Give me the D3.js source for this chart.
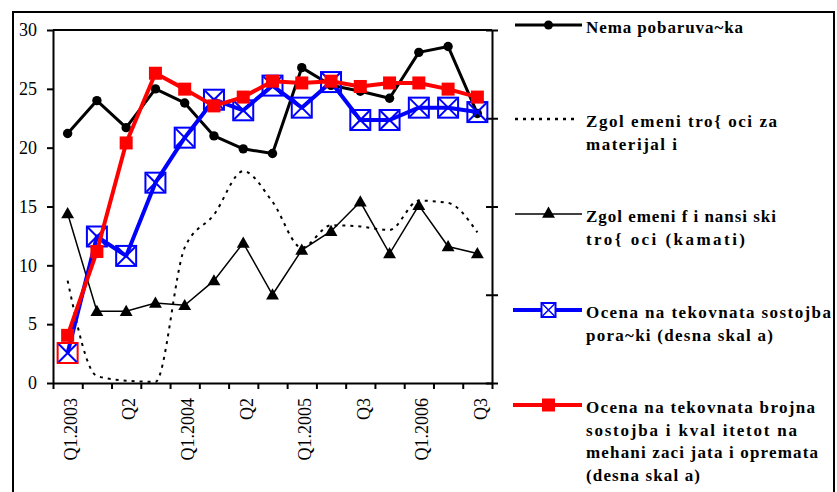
<!DOCTYPE html>
<html><head><meta charset="utf-8">
<script src="https://cdn.jsdelivr.net/npm/d3@7"></script>
<style>html,body{margin:0;padding:0;background:#fff;} svg{display:block;}
svg text{font-family:"Liberation Serif","Times New Roman","DejaVu Serif",serif;}</style>
</head><body>
<svg id="chart" width="837" height="492"></svg>
<script>
// ---- data ----
const categories = ["Q1.2003","Q2.2003","Q3.2003","Q4.2003","Q1.2004","Q2.2004","Q3.2004","Q4.2004","Q1.2005","Q2.2005","Q3.2005","Q4.2005","Q1.2006","Q2.2006","Q3.2006"];
const tickLabels = ["Q1.2003","","Q2","","Q1.2004","","Q2","","Q1.2005","","Q3","","Q1.2006","","Q3"];
const leftTicks = [0,5,10,15,20,25,30];
const rightTicks = [0,10,20,30,40];
const nemaPobaruvacka = [21.2,24.0,21.7,25.0,23.8,21.0,19.9,19.5,26.8,25.3,24.8,24.2,28.1,28.6,22.9];
const materijali = [8.7,0.6,0.2,0.1,11.5,14.3,18.0,15.4,11.5,13.4,13.3,13.0,15.5,15.3,12.8];
const kamati = [14.4,6.1,6.1,6.8,6.6,8.7,11.9,7.5,11.3,12.9,15.4,11.0,15.1,11.6,11.0];
const porackiDesna = [3.4,16.6,14.4,22.7,27.8,32.1,30.9,33.7,31.2,34.1,29.8,29.8,31.2,31.2,30.7];
const mehanizacijaDesna = [5.4,14.9,27.2,35.1,33.3,31.4,32.4,34.2,34.0,34.2,33.6,34.0,34.0,33.3,32.4];
const legendLabels = [
  ["Nema pobaruva~ka"],
  ["Zgol emeni tro{ oci za","materijal i"],
  ["Zgol emeni f i nansi ski","tro{ oci (kamati)"],
  ["Ocena na tekovnata sostojba","pora~ki (desna skal a)"],
  ["Ocena na tekovnata brojna","sostojba i kval itetot na","mehani zaci jata i opremata","(desna skal a)"]
];

// ---- layout ----
const svg = d3.select("#chart");
const L = 53, R = 492, T = 30, B = 383;
const n = categories.length;
const xBand = d3.scaleBand().domain(d3.range(n)).range([L, R]).padding(0);
const xEdge = d3.scaleLinear().domain([0, n]).range([L, R]);
const cx = i => xBand(i) + xBand.bandwidth() / 2;
const yL = d3.scaleLinear().domain([0, 30]).range([B, T]);
const yR = d3.scaleLinear().domain([0, 40]).range([B, T]);
const serif = '"Liberation Serif","Times New Roman","DejaVu Serif",serif';

// outer frame
svg.append("rect").attr("x", 13).attr("y", 12).attr("width", 821).attr("height", 500)
  .attr("fill", "none").attr("stroke", "#000").attr("stroke-width", 2);

// top border of plot
svg.append("line").attr("x1", L).attr("x2", R).attr("y1", T).attr("y2", T)
  .attr("stroke", "#000").attr("stroke-width", 2);

// left axis
const gl = svg.append("g").attr("transform", `translate(${L},0)`)
  .call(d3.axisLeft(yL).tickValues(leftTicks).tickSize(6).tickSizeOuter(0).tickPadding(10));
gl.attr("font-family", null);
gl.select(".domain").attr("stroke-width", 2);
gl.selectAll(".tick line").attr("stroke-width", 2);
gl.selectAll("text").style("font-family", serif).style("font-size", "18px").attr("fill", "#000");

// right axis (no labels)
const gr = svg.append("g").attr("transform", `translate(${R},0)`)
  .call(d3.axisRight(yR).tickValues(rightTicks).tickSize(6).tickSizeOuter(0).tickFormat(""));
gr.select(".domain").attr("stroke-width", 2);
gr.selectAll(".tick line").attr("x1", -6).attr("x2", 6).attr("stroke-width", 2);

// bottom axis ticks at band edges
const gb = svg.append("g").attr("transform", `translate(0,${B})`)
  .call(d3.axisBottom(xEdge).tickValues(d3.range(n + 1)).tickSize(6).tickSizeOuter(0).tickFormat(""));
gb.select(".domain").attr("stroke-width", 2);
gb.selectAll(".tick line").attr("stroke-width", 2);

// bottom labels
const gbl = svg.append("g").attr("transform", `translate(0,${B})`)
  .call(d3.axisBottom(xBand).tickSize(0).tickFormat(i => tickLabels[i]));
gbl.attr("font-family", null);
gbl.select(".domain").remove();
gbl.selectAll("text").style("font-family", serif).style("font-size", "18px").attr("fill", "#000")
  .attr("transform", "rotate(-90)").attr("text-anchor", "end")
  .attr("x", -15).attr("y", 3).attr("dy", "0.35em");

// ---- series ----
const lineL = d3.line().x((d, i) => cx(i)).y(d => yL(d));
const lineR = d3.line().x((d, i) => cx(i)).y(d => yR(d));
const smoothL = d3.line().x((d, i) => cx(i)).y(d => yL(d)).curve(d3.curveMonotoneX);

// black: Nema pobaruvacka
svg.append("path").attr("d", lineL(nemaPobaruvacka)).attr("fill", "none")
  .attr("stroke", "#000").attr("stroke-width", 3).attr("stroke-linejoin", "round");
svg.append("g").selectAll("circle").data(nemaPobaruvacka).join("circle")
  .attr("cx", (d, i) => cx(i)).attr("cy", d => yL(d)).attr("r", 4.7).attr("fill", "#000");

// dotted: materijali
svg.append("path").attr("d", smoothL(materijali)).attr("fill", "none")
  .attr("stroke", "#000").attr("stroke-width", 2).attr("stroke-dasharray", "3,5");

// triangles: kamati
svg.append("path").attr("d", lineL(kamati)).attr("fill", "none")
  .attr("stroke", "#000").attr("stroke-width", 1.5);
const tri = d3.symbol().type(d3.symbolTriangle).size(72);
svg.append("g").selectAll("path").data(kamati).join("path")
  .attr("d", tri).attr("transform", (d, i) => `translate(${cx(i)},${yL(d) + 1})`).attr("fill", "#000");

// blue: poracki (right scale)
svg.append("path").attr("d", lineR(porackiDesna)).attr("fill", "none")
  .attr("stroke", "#0000ff").attr("stroke-width", 4).attr("stroke-linejoin", "round");
const bm = svg.append("g").selectAll("g").data(porackiDesna).join("g")
  .attr("transform", (d, i) => `translate(${cx(i)},${yR(d)})`);
bm.append("rect").attr("x", -10).attr("y", -10).attr("width", 20).attr("height", 20)
  .attr("fill", "none").attr("stroke", (d, i) => i === 0 ? "#ff0000" : "#0000ff").attr("stroke-width", 2);
bm.append("path").attr("d", "M-9,-9L9,9M9,-9L-9,9").attr("stroke", "#0000ff").attr("stroke-width", 2);

// red: mehanizacija (right scale)
svg.append("path").attr("d", lineR(mehanizacijaDesna)).attr("fill", "none")
  .attr("stroke", "#ff0000").attr("stroke-width", 4).attr("stroke-linejoin", "round");
svg.append("g").selectAll("rect").data(mehanizacijaDesna).join("rect")
  .attr("x", (d, i) => cx(i) - 6.5).attr("y", d => yR(d) - 6.5)
  .attr("width", 13).attr("height", 13).attr("fill", "#ff0000");

// ---- legend ----
const legY = [25, 119, 214, 310, 405];
const lx1 = 515, lx2 = 582, lmx = 548.5, tx = 586;
const legendWidths = [[157],[191,91],[190,159],[245,187],[229,211,232,114]];
const lg = svg.append("g");
lg.append("line").attr("x1", lx1).attr("x2", lx2).attr("y1", legY[0]).attr("y2", legY[0]).attr("stroke", "#000").attr("stroke-width", 3);
lg.append("circle").attr("cx", lmx).attr("cy", legY[0]).attr("r", 4.5).attr("fill", "#000");
lg.append("line").attr("x1", lx1).attr("x2", lx2 - 4).attr("y1", legY[1]).attr("y2", legY[1]).attr("stroke", "#000").attr("stroke-width", 2.5).attr("stroke-dasharray", "3,5");
lg.append("line").attr("x1", lx1).attr("x2", lx2).attr("y1", legY[2]).attr("y2", legY[2]).attr("stroke", "#000").attr("stroke-width", 1.5);
lg.append("path").attr("d", tri).attr("transform", `translate(${lmx},${legY[2]})`).attr("fill", "#000");
lg.append("line").attr("x1", lx1 - 2).attr("x2", lx2).attr("y1", legY[3]).attr("y2", legY[3]).attr("stroke", "#0000ff").attr("stroke-width", 4);
lg.append("rect").attr("x", lmx - 7).attr("y", legY[3] - 7).attr("width", 14).attr("height", 14).attr("fill", "#fff").attr("stroke", "#0000ff").attr("stroke-width", 2);
lg.append("path").attr("d", `M${lmx-6},${legY[3]-6}L${lmx+6},${legY[3]+6}M${lmx+6},${legY[3]-6}L${lmx-6},${legY[3]+6}`).attr("stroke", "#0000ff").attr("stroke-width", 1.5);
lg.append("line").attr("x1", lx1 - 2).attr("x2", lx2).attr("y1", legY[4]).attr("y2", legY[4]).attr("stroke", "#ff0000").attr("stroke-width", 4);
lg.append("rect").attr("x", lmx - 6.5).attr("y", legY[4] - 6.5).attr("width", 13).attr("height", 13).attr("fill", "#ff0000");
legendLabels.forEach((lines, k) => {
  lines.forEach((s, j) => {
    lg.append("text").attr("x", tx).attr("y", legY[k] + 8 + j * 22.5)
      .style("font-family", serif).style("font-size", "17px").style("font-weight", "bold")
      .attr("textLength", legendWidths[k][j]).attr("lengthAdjust", "spacing")
      .attr("fill", "#000").text(s);
  });
});
</script>
</body></html>
